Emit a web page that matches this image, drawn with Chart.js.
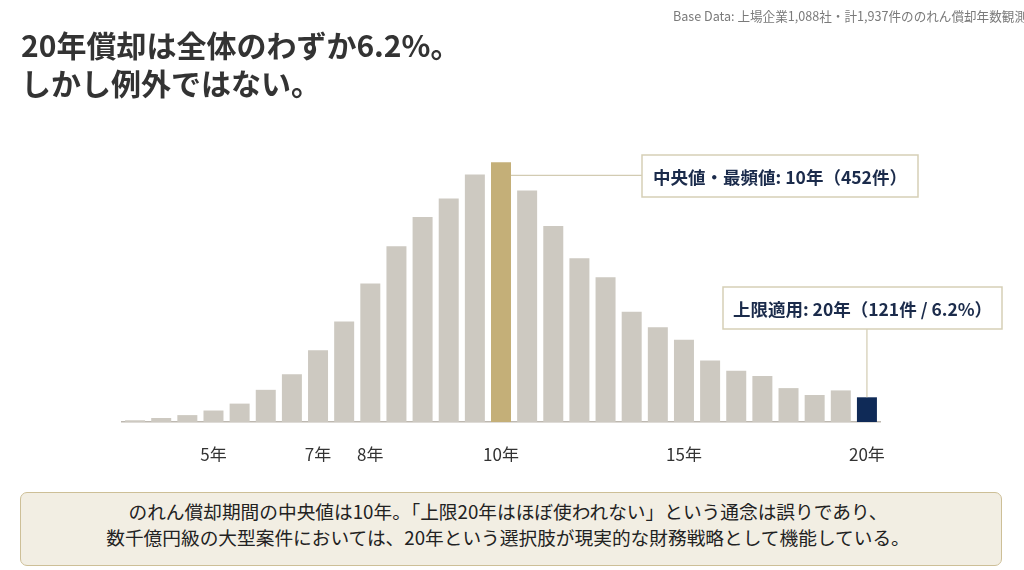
<!DOCTYPE html>
<html lang="ja">
<head>
<meta charset="utf-8">
<script src="https://cdn.jsdelivr.net/npm/chart.js@4.4.1/dist/chart.umd.min.js"></script>
<style>
    body { margin: 0; background: #fff; font-family: "Noto Sans CJK JP", "Noto Sans", sans-serif; }
    #wrap { position: relative; width: 1024px; height: 570px; overflow: hidden; }
    #chart { position: absolute; left: 0; top: 0; }
    .source { position: absolute; right: -3px; top: 6px; font-size: 12.6px; color: #7a7a7a; white-space: nowrap; }
    .title { position: absolute; left: 21px; top: 25px; font-size: 30px; font-weight: 700; color: #333; line-height: 38px; }
    .note {
        position: absolute; left: 20px; top: 492px; width: 982px; height: 74px;
        background: #f2eee3; border: 1.5px solid #cdbf97; border-radius: 7px;
        box-sizing: border-box; text-align: center; font-size: 18.7px; color: #222;
        line-height: 26px; padding-top: 5px; padding-right: 6px;
    }
</style>
</head>
<body>
<div id="wrap">
    <canvas id="chart" width="1024" height="570"></canvas>
    <div class="source">Base Data: 上場企業1,088社・計1,937件ののれん償却年数観測</div>
    <div class="title">20年償却は全体のわずか6.2%。<br>しかし例外ではない。</div>
    <div class="note">のれん償却期間の中央値は10年。「上限20年はほぼ使われない」という通念は誤りであり、<br>数千億円級の大型案件においては、20年という選択肢が現実的な財務戦略として機能している。</div>
</div>
<script>
    // bins along the x axis, only some carry a label
    const yearLabels = ['', '', '', '5年', '', '', '', '7年', '', '8年', '', '', '', '', '10年',
        '', '', '', '', '', '', '15年', '', '', '', '', '', '', '20年'];
    // counts
    const counts = [3, 7, 12, 20, 32, 56, 83, 125, 175, 241, 306, 357, 389, 431, 452,
        403, 341, 285, 252, 192, 165, 143, 107, 89, 80, 59, 47, 55, 43];
    const medianNote = '中央値・最頻値: 10年（452件）';
    const capNote = '上限適用: 20年（121件 / 6.2%）';

    const grey = '#cdc9c1';
    const gold = '#c4af78';
    const navy = '#0f2a57';

    const peakIdx = counts.indexOf(Math.max(...counts));
    const capIdx = counts.length - 1;
    const barColors = counts.map((v, i) => i === peakIdx ? gold : (i === capIdx ? navy : grey));

    function drawBox(ctx, x, y, w, h, text) {
        ctx.fillStyle = '#fff';
        ctx.fillRect(x, y, w, h);
        ctx.strokeStyle = '#d6cfb6';
        ctx.lineWidth = 1.5;
        ctx.strokeRect(x, y, w, h);
        ctx.fillStyle = '#1b2b4b';
        ctx.font = '700 17.5px "Noto Sans CJK JP"';
        ctx.textAlign = 'center';
        ctx.textBaseline = 'middle';
        ctx.fillText(text, x + w / 2, y + h / 2 + 1);
    }

    const callouts = {
        id: 'callouts',
        afterDatasetsDraw(chart) {
            const ctx = chart.ctx;
            const bars = chart.getDatasetMeta(0).data;
            const peak = bars[peakIdx];
            const cap = bars[capIdx];
            ctx.save();
            ctx.strokeStyle = '#d2cbb2';
            ctx.lineWidth = 1.2;
            // median line: from the right edge of the peak bar to the box
            const ly = peak.y + 13;
            ctx.beginPath();
            ctx.moveTo(peak.x + peak.width / 2, ly);
            ctx.lineTo(642, ly);
            ctx.stroke();
            // cap line: from the box down to the last bar
            ctx.beginPath();
            ctx.moveTo(cap.x, 329);
            ctx.lineTo(cap.x, cap.y);
            ctx.stroke();
            drawBox(ctx, 642, 155, 276, 42, medianNote);
            drawBox(ctx, 723, 287, 279, 42, capNote);
            ctx.restore();
        }
    };

    new Chart(document.getElementById('chart'), {
        type: 'bar',
        data: {
            labels: yearLabels,
            datasets: [{
                data: counts,
                backgroundColor: barColors,
                borderWidth: 0,
                categoryPercentage: 0.765,
                barPercentage: 1
            }]
        },
        options: {
            responsive: false,
            animation: false,
            layout: { padding: { left: 122, right: 144, top: 152, bottom: 108 } },
            plugins: { legend: { display: false }, tooltip: { enabled: false } },
            scales: {
                x: {
                    grid: { display: false },
                    border: { display: true, color: '#bdb8b0', width: 1.5 },
                    ticks: {
                        autoSkip: false, maxRotation: 0, padding: 14,
                        color: '#333', font: { family: 'Noto Sans CJK JP', size: 17 }
                    },
                    afterFit: (s) => { s.height = 40; }
                },
                y: { display: false, min: 0, max: 470 }
            }
        },
        plugins: [callouts]
    });
</script>
</body>
</html>
